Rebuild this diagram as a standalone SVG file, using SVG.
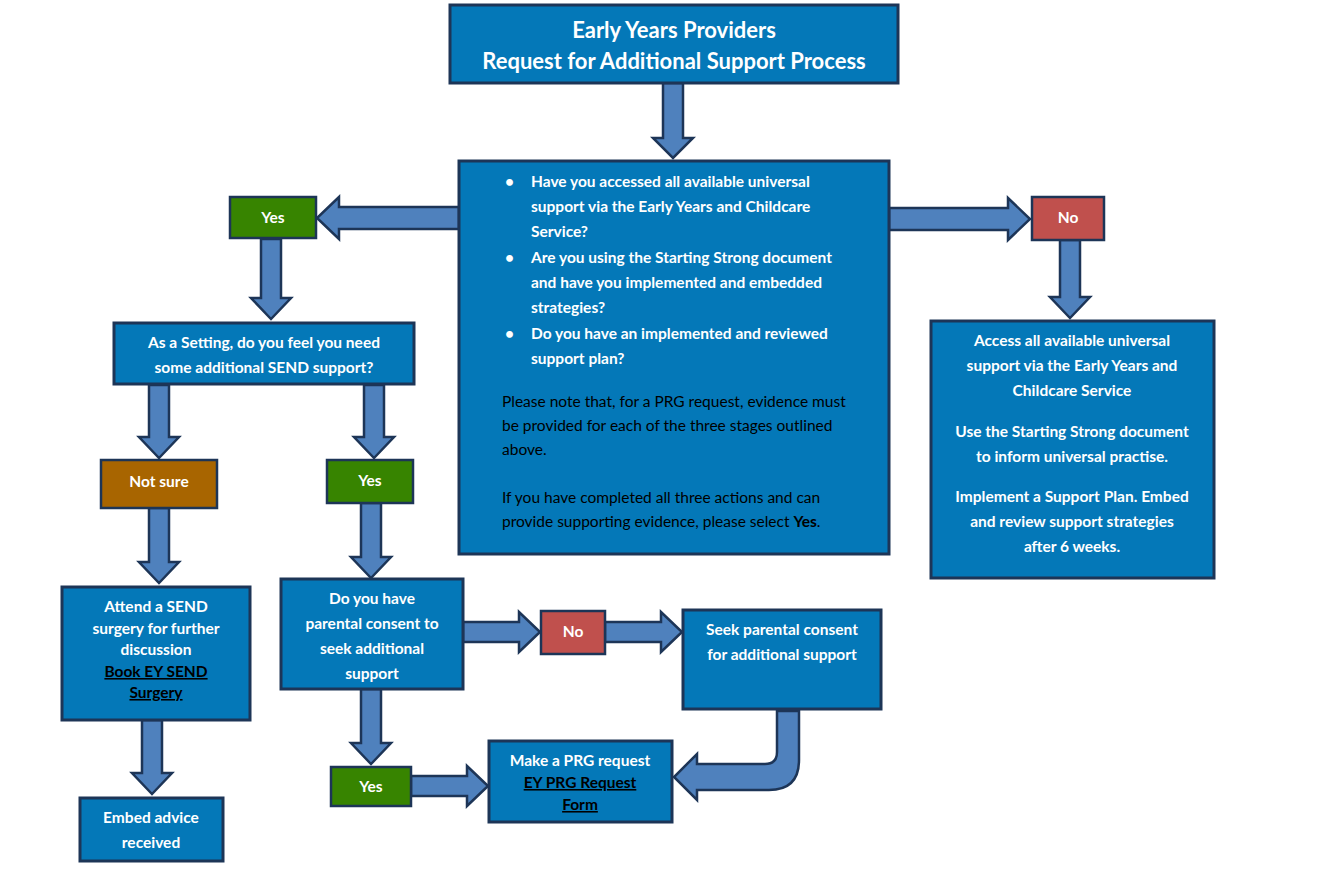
<svg xmlns="http://www.w3.org/2000/svg" width="1323" height="876" viewBox="0 0 1323 876">
<style>
.box{fill:#0478b8;stroke:#1d3557;stroke-width:3}
.grn{fill:#378400;stroke:#1d3557;stroke-width:2.5}
.red{fill:#c0504d;stroke:#1d3557;stroke-width:2.5}
.org{fill:#a86500;stroke:#1d3557;stroke-width:2.5}
.arr{fill:#4f81bd;stroke:#1d3557;stroke-width:2.5;stroke-linejoin:miter}
text{font-family:Lato,"Open Sans","Liberation Sans",sans-serif;font-weight:bold;fill:#fff;font-size:15.5px}
.c{text-anchor:middle}
.n{font-weight:normal}
.u{text-decoration:underline;fill:#000}
</style>
<rect width="1323" height="876" fill="#fff"/>
<g id="connectors">
<polygon class="arr" points="663,83 683,83 683,138 693,138 673,158 653,138 663,138"/>
<polygon class="arr" points="459,207 339,207 339,197 317,218 339,239 339,229 459,229"/>
<polygon class="arr" points="889,208 1008,208 1008,198 1030,219 1008,240 1008,230 889,230"/>
<polygon class="arr" points="261,239 281,239 281,298 291,298 271,319 251,298 261,298"/>
<polygon class="arr" points="1060,240 1080,240 1080,297 1090,297 1070,318 1050,297 1060,297"/>
<polygon class="arr" points="149,385 169,385 169,437 179,437 159,458 139,437 149,437"/>
<polygon class="arr" points="364,385 384,385 384,437 394,437 374,458 354,437 364,437"/>
<polygon class="arr" points="149,508 169,508 169,562 179,562 159,583 139,562 149,562"/>
<polygon class="arr" points="361,503 381,503 381,557 391,557 371,578 351,557 361,557"/>
<polygon class="arr" points="463,622 519,622 519,612 540,632 519,652 519,642 463,642"/>
<polygon class="arr" points="605,622 661,622 661,612 682,632 661,652 661,642 605,642"/>
<polygon class="arr" points="361,689 381,689 381,743 391,743 371,764 351,743 361,743"/>
<polygon class="arr" points="411,776 467,776 467,766 488,786 467,806 467,796 411,796"/>
<polygon class="arr" points="142,720 162,720 162,773 172,773 152,794 132,773 142,773"/>
<path class="arr" d="M777,711 L799,711 L799,760 Q799,790 769,790 L697,790 L697,800 L674,777 L697,754 L697,764 L765,764 Q777,764 777,752 Z"/>
</g>
<g id="title"><rect class="box" x="450" y="5" width="448" height="78"/>
<text class="c" x="674" y="38" style="font-size:22px">Early Years Providers</text>
<text class="c" x="674" y="69" style="font-size:22px">Request for Additional Support Process</text></g>
<g id="main"><rect class="box" x="459" y="161" width="430" height="393"/>
<text x="505" y="187">•</text><text x="531" y="187">Have you accessed all available universal</text>
<text x="531" y="212">support via the Early Years and Childcare</text>
<text x="531" y="237">Service?</text>
<text x="505" y="263">•</text><text x="531" y="263">Are you using the Starting Strong document</text>
<text x="531" y="288">and have you implemented and embedded</text>
<text x="531" y="313">strategies?</text>
<text x="505" y="339">•</text><text x="531" y="339">Do you have an implemented and reviewed</text>
<text x="531" y="364">support plan?</text>
<text class="n" x="502" y="407" fill="#000" style="fill:#000">Please note that, for a PRG request, evidence must</text>
<text class="n" x="502" y="431" style="fill:#000">be provided for each of the three stages outlined</text>
<text class="n" x="502" y="455" style="fill:#000">above.</text>
<text class="n" x="502" y="503" style="fill:#000">If you have completed all three actions and can</text>
<text class="n" x="502" y="527" style="fill:#000">provide supporting evidence, please select <tspan style="font-weight:bold;fill:#000">Yes</tspan>.</text></g>
<g id="yes1"><rect class="grn" x="230" y="197" width="86" height="41"/><text class="c" x="273" y="223">Yes</text></g>
<g id="no1"><rect class="red" x="1032" y="197" width="72" height="43"/><text class="c" x="1068" y="223">No</text></g>
<g id="access"><rect class="box" x="931" y="321" width="283" height="257"/>
<text class="c" x="1072" y="346">Access all available universal</text>
<text class="c" x="1072" y="371">support via the Early Years and</text>
<text class="c" x="1072" y="396">Childcare Service</text>
<text class="c" x="1072" y="437">Use the Starting Strong document</text>
<text class="c" x="1072" y="462">to inform universal practise.</text>
<text class="c" x="1072" y="502">Implement a Support Plan. Embed</text>
<text class="c" x="1072" y="527">and review support strategies</text>
<text class="c" x="1072" y="552">after 6 weeks.</text></g>
<g id="setting"><rect class="box" x="114" y="323" width="300" height="61"/>
<text class="c" x="264" y="348">As a Setting, do you feel you need</text>
<text class="c" x="264" y="373">some additional SEND support?</text></g>
<g id="notsure"><rect class="org" x="101" y="460" width="116" height="48"/><text class="c" x="159" y="487">Not sure</text></g>
<g id="yes2"><rect class="grn" x="327" y="460" width="86" height="43"/><text class="c" x="370" y="486">Yes</text></g>
<g id="attend"><rect class="box" x="62" y="587" width="188" height="133"/>
<text class="c" x="156" y="612">Attend a SEND</text>
<text class="c" x="156" y="634">surgery for further</text>
<text class="c" x="156" y="655">discussion</text>
<text class="c u" x="156" y="677">Book EY SEND</text>
<text class="c u" x="156" y="698">Surgery</text></g>
<g id="consent"><rect class="box" x="281" y="579" width="182" height="110"/>
<text class="c" x="372" y="604">Do you have</text>
<text class="c" x="372" y="629">parental consent to</text>
<text class="c" x="372" y="654">seek additional</text>
<text class="c" x="372" y="679">support</text></g>
<g id="no2"><rect class="red" x="541" y="611" width="64" height="43"/><text class="c" x="573" y="637">No</text></g>
<g id="seek"><rect class="box" x="683" y="610" width="198" height="99"/>
<text class="c" x="782" y="635">Seek parental consent</text>
<text class="c" x="782" y="660">for additional support</text></g>
<g id="yes3"><rect class="grn" x="331" y="767" width="80" height="39"/><text class="c" x="371" y="792">Yes</text></g>
<g id="prg"><rect class="box" x="489" y="741" width="183" height="81"/>
<text class="c" x="580" y="766">Make a PRG request</text>
<text class="c u" x="580" y="788">EY PRG Request</text>
<text class="c u" x="580" y="810">Form</text></g>
<g id="embed"><rect class="box" x="80" y="798" width="143" height="63"/>
<text class="c" x="151" y="823">Embed advice</text>
<text class="c" x="151" y="848">received</text></g>
</svg>
